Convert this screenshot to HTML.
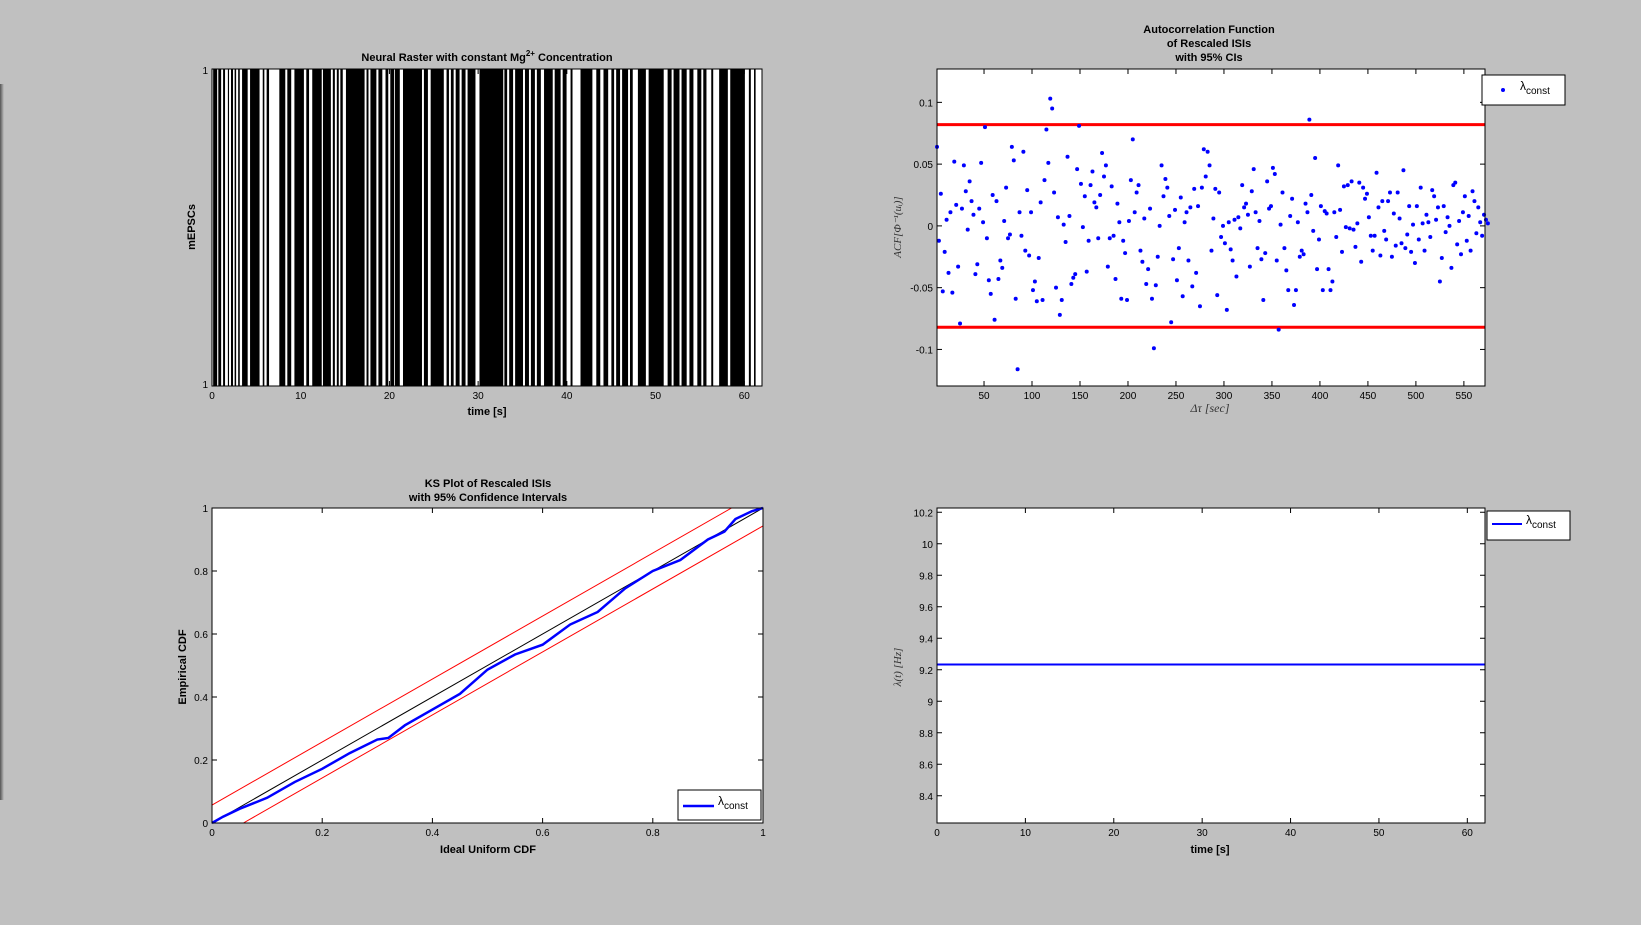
<!DOCTYPE html>
<html><head><meta charset="utf-8">
<style>
html,body{margin:0;padding:0;background:#c0c0c0;}
svg{display:block;font-family:"Liberation Sans",sans-serif;}
</style></head>
<body>
<svg id="fig" width="1641" height="925" viewBox="0 0 1641 925" xmlns="http://www.w3.org/2000/svg">
<defs><linearGradient id="sh" x1="0" x2="1"><stop offset="0" stop-color="#555"/><stop offset="1" stop-color="#c0c0c0"/></linearGradient></defs>
<rect width="1641" height="925" fill="#c0c0c0"/>
<rect x="0" y="84" width="4" height="716" fill="url(#sh)"/>
</svg>
<script>
// ---------- DATA ----------
// raster: burst intervals (s)
const burstStart=[0.13,0.71,1.25,1.79,2.14,2.55,2.95,3.39,4.29,5.72,6.16,7.59,8.49,9.29,10.63,11.30,12.51,13.62,14.07,14.47,15.10,17.42,17.86,18.76,19.56,20.10,20.63,21.53,23.89,24.65,26.44,26.93,27.47,28.14,28.81,30.15,32.96,33.50,34.17,35.28,35.95,36.62,37.43,38.63,39.53,40.42,41.54,43.32,44.13,45.02,45.56,46.23,47.12,48.01,49.22,51.36,52.03,52.93,53.82,54.71,55.38,56.28,57.17,58.42,60.52,61.10];
const burstEnd=[0.58,1.03,1.47,1.92,2.37,2.72,3.13,4.02,5.36,5.90,6.43,8.26,8.93,10.36,10.94,12.37,13.40,13.85,14.29,14.74,17.20,17.64,18.53,19.20,19.87,20.54,21.17,23.67,24.34,26.13,26.71,27.24,27.91,28.58,29.70,32.83,33.27,33.94,35.06,35.73,36.40,37.07,38.41,39.30,39.97,40.64,42.88,43.77,44.66,45.33,46.00,46.90,47.43,48.91,50.92,51.81,52.70,53.51,54.27,55.16,55.74,56.50,58.15,60.07,60.74,61.28];
const rasterXTicks=[0,10,20,30,40,50,60];
// ACF
const acfVals=[0.064,-0.012,0.026,-0.053,-0.021,0.005,-0.038,0.011,-0.054,0.052,
0.017,-0.033,-0.079,0.014,0.049,0.028,-0.003,0.036,0.020,0.009,
-0.039,-0.031,0.014,0.051,0.003,0.080,-0.010,-0.044,-0.055,0.025,
-0.076,0.020,-0.043,-0.028,-0.034,0.004,0.031,-0.010,-0.007,0.064,
0.053,-0.059,-0.116,0.011,-0.008,0.060,-0.020,0.029,-0.024,0.011,
-0.052,-0.045,-0.061,-0.026,0.019,-0.060,0.037,0.078,0.051,0.103,
0.095,0.027,-0.050,0.007,-0.072,-0.060,0.001,-0.013,0.056,0.008,
-0.047,-0.042,-0.039,0.046,0.081,0.034,-0.001,0.024,-0.037,-0.012,
0.033,0.044,0.019,0.015,-0.010,0.025,0.059,0.040,0.049,-0.033,
-0.010,0.032,-0.008,-0.043,0.018,0.003,-0.059,-0.012,-0.022,-0.060,
0.004,0.037,0.070,0.011,0.027,0.033,-0.020,-0.029,0.006,-0.047,
-0.035,0.014,-0.059,-0.099,-0.048,-0.025,0.000,0.049,0.024,0.038,
0.031,0.008,-0.078,-0.027,0.013,-0.044,-0.018,0.023,-0.057,0.003,
0.011,-0.028,0.015,-0.049,0.030,-0.038,0.016,-0.065,0.031,0.062,
0.040,0.060,0.049,-0.020,0.006,0.030,-0.056,0.027,-0.009,0.000,
-0.014,-0.068,0.003,-0.019,-0.028,0.005,-0.041,0.007,-0.002,0.033,
0.015,0.018,0.009,-0.033,0.028,0.046,0.011,-0.018,0.004,-0.027,
-0.060,-0.022,0.036,0.014,0.016,0.047,0.042,-0.028,-0.084,0.001,
0.027,-0.018,-0.036,-0.052,0.008,0.022,-0.064,-0.052,0.003,-0.025,
-0.020,-0.023,0.018,0.011,0.086,0.025,-0.004,0.055,-0.035,-0.011,
0.016,-0.052,0.012,0.010,-0.035,-0.052,-0.045,0.011,-0.009,0.049,
0.013,-0.021,0.032,-0.001,0.033,-0.002,0.036,-0.003,-0.017,0.002,
0.035,-0.029,0.031,0.022,0.026,0.007,-0.008,-0.020,-0.008,0.043,
0.015,-0.024,0.020,-0.004,-0.011,0.020,0.027,-0.025,0.010,-0.016,
0.027,0.006,-0.014,0.045,-0.018,-0.007,0.016,-0.021,0.001,-0.030,
0.016,-0.011,0.031,0.002,-0.020,0.009,0.003,-0.009,0.029,0.024,
0.005,0.015,-0.045,-0.026,0.016,-0.005,0.007,0.000,-0.034,0.033,
0.035,-0.015,0.004,-0.023,0.011,0.024,-0.012,0.008,-0.020,0.028,
0.020,-0.006,0.015,0.003,-0.008,0.009,0.005,0.002];
const acfLagStart=1, acfLagStep=2;
const acfCI=[0.082,-0.082];
const acfXTicks=[50,100,150,200,250,300,350,400,450,500,550];
const acfYTicks=[-0.1,-0.05,0,0.05,0.1];
// KS
const ksIdeal=[0,0.02,0.05,0.1,0.15,0.2,0.25,0.3,0.32,0.35,0.4,0.45,0.5,0.55,0.6,0.65,0.7,0.75,0.8,0.85,0.9,0.93,0.95,0.98,1];
const ksEmp=[0,0.02,0.045,0.08,0.13,0.172,0.222,0.265,0.27,0.31,0.36,0.41,0.487,0.535,0.566,0.63,0.67,0.745,0.8,0.835,0.9,0.925,0.965,0.99,1];
const ksBand=0.057;
const ksTicks=[0,0.2,0.4,0.6,0.8,1];
// lambda
const lamValue=9.233;
const lamYTicks=[8.4,8.6,8.8,9,9.2,9.4,9.6,9.8,10,10.2];
const lamXTicks=[0,10,20,30,40,50,60];

// ---------- DRAW ----------
const NS="http://www.w3.org/2000/svg";
const svg=document.getElementById('fig');
function mk(tag,attrs,parent){const e=document.createElementNS(NS,tag);for(const k in attrs)e.setAttribute(k,attrs[k]);(parent||svg).appendChild(e);return e;}
function txt(x,y,s,size,anchor,weight,parent){const t=mk('text',{x:x,y:y,'font-size':size,'text-anchor':anchor||'middle','font-weight':weight||'normal',fill:'#000'},parent);t.textContent=s;return t;}
function axes(name,L,T,R,B,x0,x1,y0,y1){
  const g=mk('g',{});
  
  
  const bg=mk('rect',{x:L,y:T,width:R-L,height:B-T,fill:'#fff'},g);
  
  
  return {g,L,T,R,B,sx:v=>L+(v-x0)/(x1-x0)*(R-L),sy:v=>B-(v-y0)/(y1-y0)*(B-T)};
}
function frame(a,xt,yt,xfmt,yfmt,name){
  const g=mk('g',{});
  
  
  mk('rect',{x:a.L,y:a.T,width:a.R-a.L,height:a.B-a.T,fill:'none',stroke:'#000','stroke-width':1},g);
  xt.forEach(v=>{const x=a.sx(v);
    mk('line',{x1:x,x2:x,y1:a.B,y2:a.B-5,stroke:'#000'},g);
    mk('line',{x1:x,x2:x,y1:a.T,y2:a.T+5,stroke:'#000'},g);
    const t=txt(x,a.B+13,xfmt(v),10,'middle','normal',g);
    
    
  });
  yt.forEach(v=>{const y=a.sy(v);
    mk('line',{x1:a.L,x2:a.L+5,y1:y,y2:y,stroke:'#000'},g);
    mk('line',{x1:a.R,x2:a.R-5,y1:y,y2:y,stroke:'#000'},g);
    const t=txt(a.L-4,y+4,yfmt(v),10,'end','normal',g);
    
    
  });
}
const f=v=>String(v);

// Raster
const A=axes('raster-plot',212,69,762,386,0,62,0,1);
burstStart.forEach((s,i)=>{
  const x0=A.sx(s),x1=A.sx(burstEnd[i]);
  const r=mk('rect',{x:x0,y:A.T,width:Math.max(1,x1-x0),height:A.B-A.T,fill:'#000'},A.g);
  
  
});
frame(A,rasterXTicks,[],f,f,'raster');
let t;
t=txt(A.L-4,A.T+5,'1',10,'end');
t=txt(A.L-4,A.B+2,'1',10,'end');
t=mk('text',{x:487,y:61,'font-size':11,'text-anchor':'middle','font-weight':'bold'});
t.innerHTML='Neural Raster with constant Mg<tspan dy="-5" font-size="8">2+</tspan><tspan dy="5"> Concentration</tspan>';

t=txt(487,415,'time [s]',11,'middle','bold');
t=txt(0,0,'mEPSCs',11,'middle','bold');t.setAttribute('transform','translate(195,227) rotate(-90)');


// ACF
const C=axes('acf-plot',937,69,1485,386,1,572,-0.1296,0.127);
acfCI.forEach(v=>{const l=mk('line',{x1:C.L,x2:C.R,y1:C.sy(v),y2:C.sy(v),stroke:'#f00','stroke-width':3},C.g);
  });
acfVals.forEach((v,i)=>{const c=mk('circle',{cx:C.sx(acfLagStart+i*acfLagStep),cy:C.sy(v),r:2,fill:'#00f'},C.g);
  });
frame(C,acfXTicks,acfYTicks,f,v=>v===0?'0':String(v),'acf');
['Autocorrelation Function','of Rescaled ISIs','with 95% CIs'].forEach((s,i)=>{const tt=txt(1209,33+i*14,s,11,'middle','bold');
  });
t=mk('text',{x:1210,y:412,'font-size':12,'text-anchor':'middle','font-family':'Liberation Serif, serif','font-style':'italic',fill:'#333'});
t.textContent='Δτ [sec]';
t=mk('text',{x:0,y:0,'font-size':11,'text-anchor':'middle','font-family':'Liberation Serif, serif','font-style':'italic',fill:'#333',transform:'translate(901,227) rotate(-90)'});
t.textContent='ACF[Φ⁻¹(uᵢ)]';
let lg=mk('g',{});
mk('rect',{x:1482,y:75,width:83,height:30,fill:'#fff',stroke:'#000'},lg);
mk('circle',{cx:1503,cy:90,r:2,fill:'#00f'},lg);
t=mk('text',{x:1520,y:90,'font-size':12},lg);t.innerHTML='λ<tspan dy="4" font-size="10">const</tspan>';

// KS
const K=axes('ks-plot',212,508,763,823,0,1,0,1);
let l=mk('line',{x1:K.sx(0),y1:K.sy(ksBand),x2:K.sx(1-ksBand),y2:K.sy(1),stroke:'#f00','stroke-width':1},K.g);

l=mk('line',{x1:K.sx(ksBand),y1:K.sy(0),x2:K.sx(1),y2:K.sy(1-ksBand),stroke:'#f00','stroke-width':1},K.g);

l=mk('line',{x1:K.sx(0),y1:K.sy(0),x2:K.sx(1),y2:K.sy(1),stroke:'#000','stroke-width':1},K.g);

l=mk('polyline',{points:ksIdeal.map((x,i)=>K.sx(x)+','+K.sy(ksEmp[i])).join(' '),fill:'none',stroke:'#00f','stroke-width':2.5},K.g);

frame(K,ksTicks,ksTicks,f,f,'ks');
t=txt(488,487,'KS Plot of Rescaled ISIs',11,'middle','bold');
t=txt(488,501,'with 95% Confidence Intervals',11,'middle','bold');
t=txt(488,853,'Ideal Uniform CDF',11,'middle','bold');
t=txt(0,0,'Empirical CDF',11,'middle','bold');t.setAttribute('transform','translate(186,667) rotate(-90)');

lg=mk('g',{});
mk('rect',{x:678,y:790,width:83,height:30,fill:'#fff',stroke:'#000'},lg);
mk('line',{x1:683,x2:714,y1:806,y2:806,stroke:'#00f','stroke-width':2.5},lg);
t=mk('text',{x:718,y:805,'font-size':12},lg);t.innerHTML='λ<tspan dy="4" font-size="10">const</tspan>';

// Lambda
const M=axes('lambda-plot',937,508,1485,823,0,62,8.227,10.227);
l=mk('line',{x1:M.sx(0),x2:M.sx(62),y1:M.sy(lamValue),y2:M.sy(lamValue),stroke:'#00f','stroke-width':2},M.g);

frame(M,lamXTicks,lamYTicks,f,f,'lambda');
t=txt(1210,853,'time [s]',11,'middle','bold');
t=mk('text',{x:0,y:0,'font-size':11,'text-anchor':'middle','font-family':'Liberation Serif, serif','font-style':'italic',fill:'#333',transform:'translate(901,667) rotate(-90)'});
t.textContent='λ(t) [Hz]';
lg=mk('g',{});
mk('rect',{x:1487,y:511,width:83,height:29,fill:'#fff',stroke:'#000'},lg);
mk('line',{x1:1492,x2:1522,y1:524,y2:524,stroke:'#00f','stroke-width':2},lg);
t=mk('text',{x:1526,y:524,'font-size':12},lg);t.innerHTML='λ<tspan dy="4" font-size="10">const</tspan>';
</script>
</body></html>
